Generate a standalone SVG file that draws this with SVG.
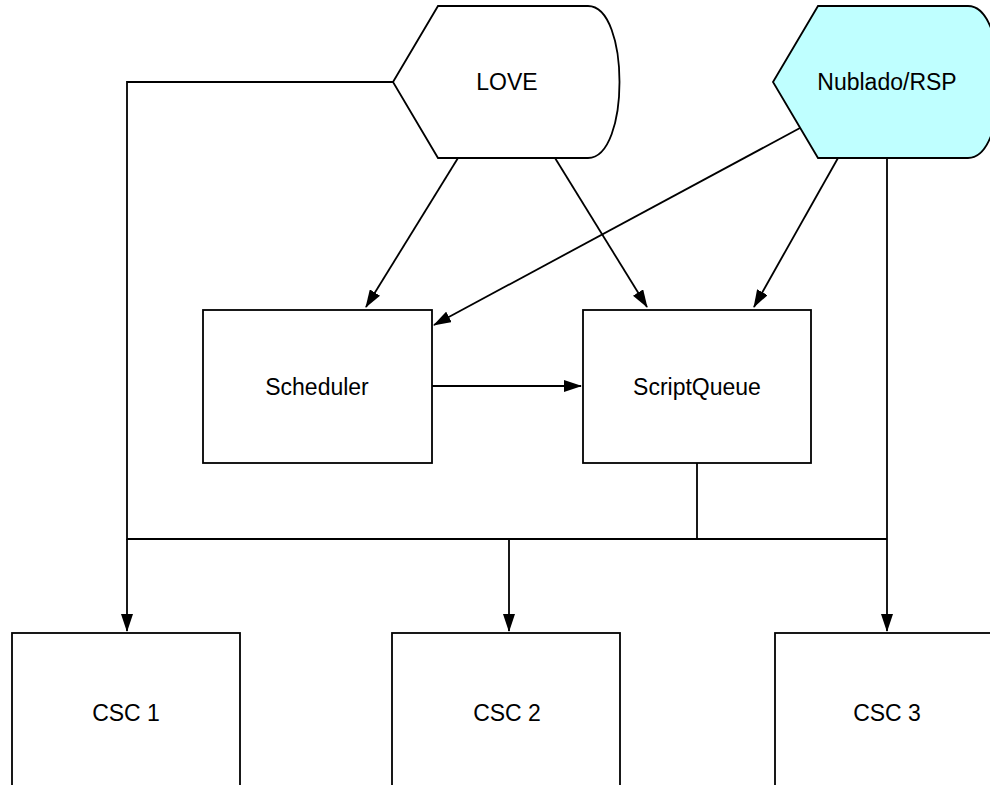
<svg xmlns="http://www.w3.org/2000/svg" width="990" height="785" viewBox="0 0 990 785">
<defs>
<marker id="arr" markerWidth="18" markerHeight="12" refX="17" refY="6" orient="auto" markerUnits="userSpaceOnUse">
<path d="M0,0 L18,6 L0,12 Z" fill="#000"/>
</marker>
<style>
.n{fill:#fff;stroke:#000;stroke-width:1.8}
.c{fill:#bfffff}
.t{font-family:"Liberation Sans",Arial,sans-serif;font-size:23px;fill:#000;text-anchor:middle;dominant-baseline:central}
.e{fill:none;stroke:#000;stroke-width:1.8}
.a{marker-end:url(#arr)}
</style>
</defs>
<rect width="990" height="785" fill="#fff"/>
<g id="connectors">
<path class="e" d="M393,82 H127 V539 H887"/>
<path class="e a" d="M127,539 V631"/>
<path class="e a" d="M509,539 V631"/>
<path class="e" d="M697,463 V539"/>
<path class="e a" d="M887,158 V631"/>
<path class="e a" d="M458,158 L366,307"/>
<path class="e a" d="M555,158 L647,307"/>
<path class="e a" d="M800,128 L434,325"/>
<path class="e a" d="M838,158 L754,307"/>
<path class="e a" d="M432,386 L581,386"/>
</g>
<g id="love">
<path class="n" d="M393,82 L438,6 H588 C630,6 630,158 588,158 H438 Z"/>
<text class="t" x="507" y="82">LOVE</text>
</g>
<g id="nublado">
<path class="n c" d="M773,82 L818,6 H968 C1010,6 1010,158 968,158 H818 Z"/>
<text class="t" x="887" y="82">Nublado/RSP</text>
</g>
<g id="scheduler">
<rect class="n" x="203" y="310" width="229" height="153"/>
<text class="t" x="317" y="387">Scheduler</text>
</g>
<g id="scriptqueue">
<rect class="n" x="583" y="310" width="228" height="153"/>
<text class="t" x="697" y="387">ScriptQueue</text>
</g>
<g id="csc1">
<rect class="n" x="12" y="633" width="228" height="170"/>
<text class="t" x="126" y="713">CSC 1</text>
</g>
<g id="csc2">
<rect class="n" x="392" y="633" width="228" height="170"/>
<text class="t" x="507" y="713">CSC 2</text>
</g>
<g id="csc3">
<rect class="n" x="775" y="633" width="228" height="170"/>
<text class="t" x="887" y="713">CSC 3</text>
</g>
</svg>
